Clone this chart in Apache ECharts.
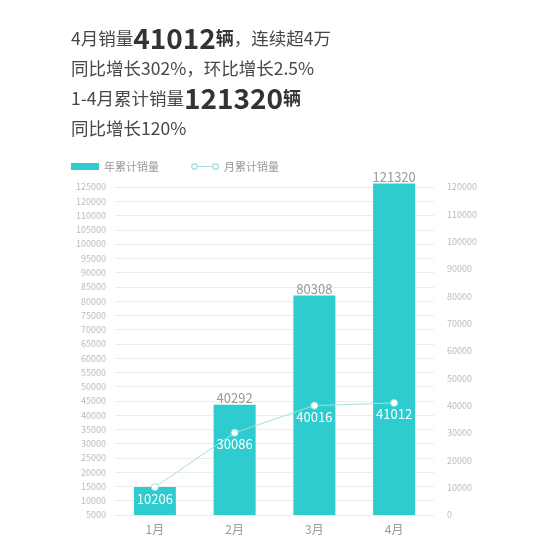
<!DOCTYPE html>
<html>
<head>
<meta charset="utf-8">
<script src="https://cdn.jsdelivr.net/npm/echarts@6/dist/echarts.min.js"></script>
<style>html,body{margin:0;padding:0;background:#fff;}#c{width:550px;height:555px;}</style>
</head>
<body>
<div id="c"></div>
<script>
var categories = ['1月', '2月', '3月', '4月'];
var cumulativeSales = [10206, 40292, 80308, 121320];
var monthlySales = [10206, 30086, 40016, 41012];
var leftTickLabels = ['5000','10000','15000','20000','25000','30000','35000','40000','45000','50000','55000','60000','65000','70000','75000','80000','85000','90000','95000','100000','105000','110000','120000','125000'];

var FONT = '"Noto Sans CJK SC", "Noto Sans", sans-serif';
var BAR = '#2ecbcf';
var LINE = '#a6e0dd';

var ringIcon = 'path://M0,5A5,5 0 1,1 10,5A5,5 0 1,1 0,5Z M2,5A3,3 0 1,0 8,5A3,3 0 1,0 2,5Z M10,4.4H30V5.6H10Z M30,5A5,5 0 1,1 40,5A5,5 0 1,1 30,5Z M32,5A3,3 0 1,0 38,5A3,3 0 1,0 32,5Z';

var chart = echarts.init(document.getElementById('c'));
chart.setOption({
  backgroundColor: '#fff',
  textStyle: { fontFamily: FONT },
  title: {
    left: 66, top: 18,
    text: '{a|4月销量}{b|41012}{c|辆}{a|，连续超4万}\n{a|同比增长302%，环比增长2.5%}\n{a|1-4月累计销量}{b|121320}{c|辆}\n{a|同比增长120%}',
    textStyle: {
      fontWeight: 'normal',
      rich: {
        a: { fontSize: 17.5, color: '#474747', fontWeight: 'normal', lineHeight: 30, fontFamily: FONT },
        b: { fontSize: 28, color: '#333', fontWeight: 'bold', lineHeight: 30, fontFamily: FONT },
        c: { fontSize: 18, color: '#333', fontWeight: 'bold', lineHeight: 30, fontFamily: FONT }
      }
    }
  },
  legend: {
    left: 66, top: 156,
    itemWidth: 28, itemHeight: 7, itemGap: 32,
    textStyle: { color: '#999', fontSize: 11, fontFamily: FONT },
    data: [
      { name: '年累计销量', icon: 'rect', itemStyle: { color: BAR } },
      { name: '月累计销量', icon: ringIcon, itemStyle: { color: LINE, borderWidth: 0 } }
    ]
  },
  grid: { left: 115, right: 116, top: 187, bottom: 40 },
  xAxis: {
    type: 'category',
    data: categories,
    axisLine: { show: false },
    axisTick: { show: false },
    axisLabel: { color: '#999', fontSize: 12, margin: 8, fontFamily: FONT }
  },
  yAxis: [
    {
      type: 'category',
      position: 'left',
      data: leftTickLabels,
      boundaryGap: false,
      axisLine: { show: false },
      axisTick: { show: false },
      axisLabel: { interval: 0, color: '#bbb', fontSize: 9, margin: 9, fontFamily: FONT },
      splitLine: { show: true, interval: 0, lineStyle: { color: '#ececec', width: 1 } }
    },
    {
      type: 'value',
      position: 'right',
      min: 0, max: 120000, interval: 10000,
      axisLine: { show: false },
      axisTick: { show: false },
      splitLine: { show: false },
      axisLabel: { color: '#bbb', fontSize: 9, margin: 13, fontFamily: FONT, formatter: function (v) { return String(v); } }
    }
  ],
  series: [
    {
      name: '年累计销量',
      type: 'bar',
      yAxisIndex: 1,
      barWidth: 42,
      clip: false,
      itemStyle: { color: BAR },
      label: { show: true, position: 'top', distance: 0, color: '#999', fontSize: 13, fontFamily: FONT },
      data: cumulativeSales.map(function (v, i) {
        return i === 0 ? { value: v, label: { show: false } } : v;
      })
    },
    {
      name: '月累计销量',
      type: 'line',
      yAxisIndex: 1,
      symbol: 'circle',
      symbolSize: 7,
      lineStyle: { color: LINE, width: 1 },
      itemStyle: { color: '#fff', borderColor: LINE, borderWidth: 1 },
      label: { show: true, position: 'bottom', distance: 1, color: '#fff', fontSize: 13, fontFamily: FONT },
      z: 3,
      data: monthlySales
    }
  ]
});
</script>
</body>
</html>
